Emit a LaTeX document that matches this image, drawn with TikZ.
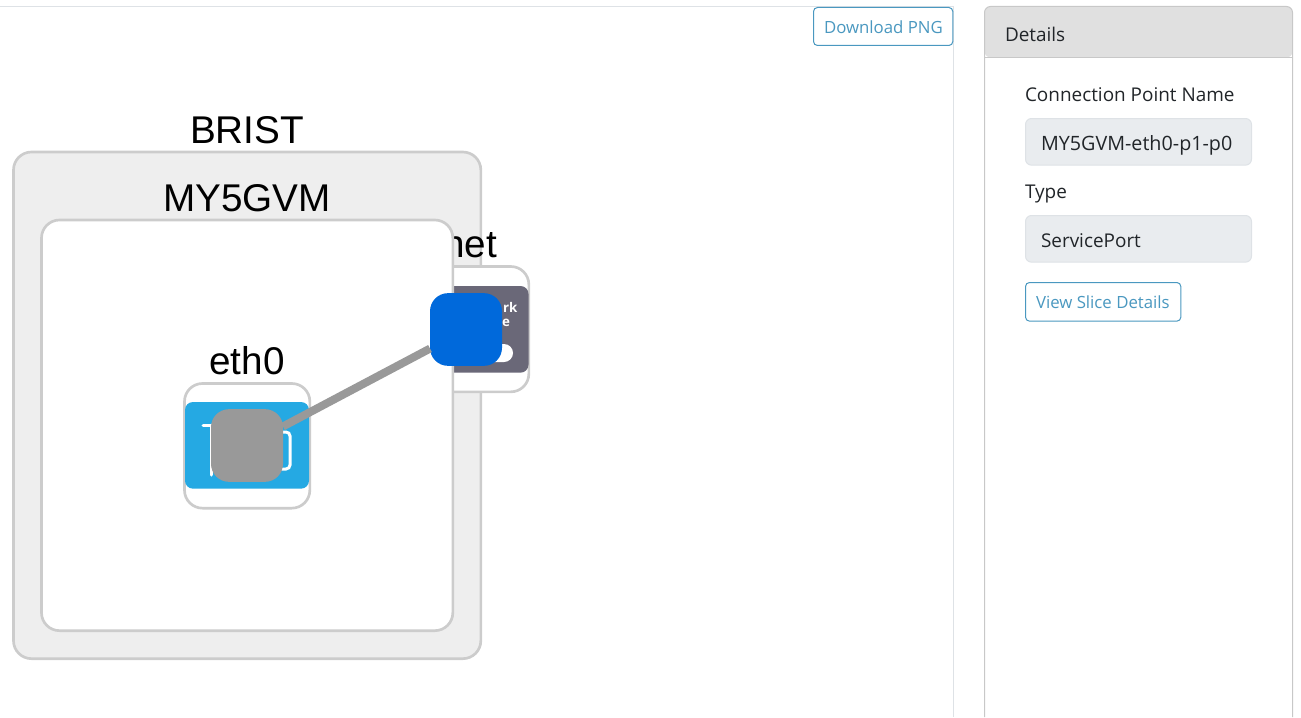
\documentclass[tikz,border=0pt]{standalone}
\usepackage{fontspec}
\setmainfont{Open Sans}
\newfontfamily\labelfont{Liberation Sans}
\definecolor{boxline}{HTML}{CCCCCC}
\definecolor{boxfill}{HTML}{EEEEEE}
\definecolor{uitext}{HTML}{212529}
\definecolor{btnblue}{HTML}{4A98C0}
\definecolor{fieldfill}{HTML}{E9ECEF}
\definecolor{fieldline}{HTML}{DEE2E6}
\definecolor{headfill}{HTML}{E0E0E0}
\definecolor{cardline}{HTML}{C8C8C8}
\definecolor{netgray}{HTML}{6A6878}
\definecolor{ethblue}{HTML}{25A9E3}
\definecolor{portgray}{HTML}{999999}
\definecolor{portblue}{HTML}{0069DB}
\tikzset{every picture/.style={line width=0.75pt}}
\tikzset{
  every node/.style={outer sep=0pt},
  groupbox/.style={draw=boxline,line width=2pt,rounded corners=13.5pt,inner sep=0pt,anchor=north west},
  iconbox/.style={inner sep=0pt,rounded corners=6pt,anchor=north west},
  portbox/.style={inner sep=0pt,rounded corners=13.5pt,minimum width=54pt,minimum height=54.5pt},
  grouplabel/.style={font=\labelfont\fontsize{29}{29}\selectfont,text=black,inner sep=0pt,anchor=base},
  uilabel/.style={font=\fontsize{14.2}{17}\selectfont,text=uitext,inner sep=0pt,anchor=base west},
  btnlabel/.style={font=\fontsize{12.6}{15}\selectfont,text=btnblue,inner sep=0pt,anchor=base west},
  fieldbox/.style={fill=fieldfill,draw=fieldline,rounded corners=4.5pt,inner sep=0pt,anchor=north west,minimum width=169.5pt,minimum height=35pt},
  btnbox/.style={draw=btnblue,fill=white,rounded corners=3pt,inner sep=0pt,anchor=north west}
}
\begin{document}
\begin{tikzpicture}[x=0.75pt,y=0.75pt,yscale=-1,xscale=1]
    \useasboundingbox (0,0) rectangle (1301,717);

    % Page frame
    \draw [color=fieldline] (0,6.5) -- (953.5,6.5) -- (953.5,717);

    % Outer group
    \node [groupbox,fill=boxfill,minimum width=350.5pt,minimum height=380pt] (brist) at (13.5,152) {};
    \node [grouplabel] (bristlabel) at (247,143) {BRIST};

    % Network group, partly under the VM group
    \node [groupbox,fill=white,minimum width=94pt,minimum height=94pt] (netbox) at (403.5,266.5) {};
    \node [grouplabel] [anchor=base east] (netlabel) at (497,257) {net};
    \node [iconbox,fill=netgray,minimum width=93pt,minimum height=65pt] (neticon) at (404.5,286) {};
    \node [inner sep=0pt,anchor=base west,text=white,font=\fontsize{10}{10}\selectfont\bfseries] (netrk) at (503,312) {rk};
    \node [inner sep=0pt,anchor=base west,text=white,font=\fontsize{10}{10}\selectfont\bfseries] (nete) at (502,326) {e};
    \node [fill=white,rounded corners=6.75pt,inner sep=0pt,minimum width=30pt,minimum height=13.5pt,anchor=north east] (netpill) at (513,344) {};

    % VM group
    \node [groupbox,fill=white,minimum width=308.5pt,minimum height=308pt] (vmbox) at (41.5,220) {};
    \node [grouplabel] (vmlabel) at (247,211) {MY5GVM};

    % Interface group
    \node [groupbox,fill=white,minimum width=94pt,minimum height=93.5pt] (ethbox) at (184.5,383.5) {};
    \node [grouplabel] (ethlabel) at (247,374) {eth0};
    \node [iconbox,fill=ethblue,minimum width=93pt,minimum height=65pt] (ethicon) at (185,402) {};
    \draw [white,line width=2.25pt,line cap=round] (203,425) -- (214,425) (211,425) -- (211,475);
    \draw [white,line width=2.25pt,rounded corners=3pt] (276,432) -- (290,432) -- (290,469) -- (276,469);

    % Ports and link
    \node [portbox,fill=portgray] (ethport) at (247,445.5) {};
    \node [portbox,fill=portblue] (netport) at (466,329.5) {};
    \draw [color=portgray,line width=6pt] (ethport) -- (netport);

    % Download button
    \node [btnbox,minimum width=104.5pt,minimum height=28.5pt] (downloadbtn) at (813.5,7.5) {};
    \node [btnlabel] (downloadlabel) at (824,34) {Download PNG};

    % Details card
    \fill [color=headfill,rounded corners=4.5pt] (984.5,57.5) -- (984.5,6.5) -- (1292.5,6.5) -- (1292.5,57.5) -- cycle;
    \draw [color=cardline,rounded corners=4.5pt] (984.5,717) -- (984.5,6.5) -- (1292.5,6.5) -- (1292.5,717);
    \draw [color=cardline] (984.5,57.5) -- (1292.5,57.5);
    \node [uilabel] (detailslabel) at (1005,41) {Details};
    \node [uilabel] (cpnamelabel) at (1025,101) {Connection Point Name};
    \node [fieldbox] (cpnamebox) at (1025.5,118.5) {};
    \node [uilabel,font=\fontsize{14.8}{17}\selectfont] (cpnametext) at (1041,150) {MY5GVM-eth0-p1-p0};
    \node [uilabel] (typelabel) at (1025,198) {Type};
    \node [fieldbox] (typebox) at (1025.5,215.5) {};
    \node [uilabel] (typetext) at (1041,247) {ServicePort};
    \node [btnbox,minimum width=116.5pt,minimum height=29pt] (slicebtn) at (1025.5,282.5) {};
    \node [btnlabel] (slicelabel) at (1036,308) {View Slice Details};
\end{tikzpicture}
\end{document}
